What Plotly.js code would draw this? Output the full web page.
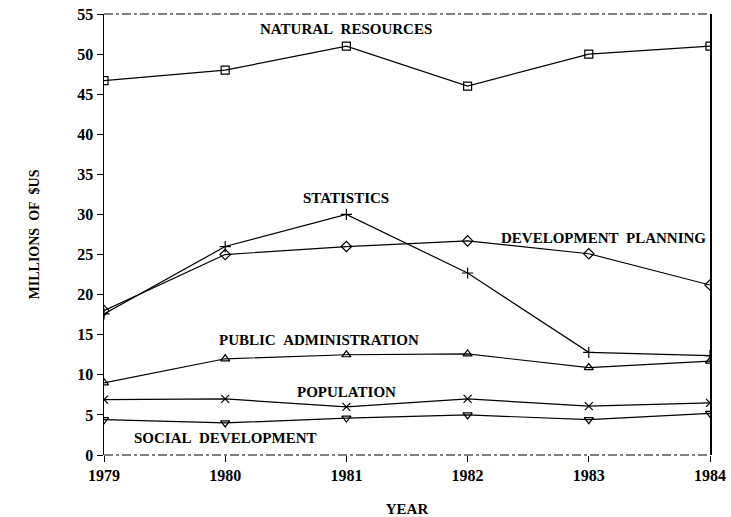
<!DOCTYPE html>
<html><head><meta charset="utf-8">
<script src="https://cdn.plot.ly/plotly-3.0.1.min.js"></script>
<style>body{margin:0;background:#fff}#chart{width:731px;height:517px}</style>
</head><body><div id="chart"></div>
<script>
const years = [1979, 1980, 1981, 1982, 1983, 1984];
const naturalResources = [46.7, 48.0, 51.0, 46.0, 50.0, 51.0];
const statistics = [17.6, 26.0, 30.0, 22.7, 12.8, 12.4];
const developmentPlanning = [18.0, 25.0, 26.0, 26.7, 25.1, 21.2];
const publicAdministration = [9.0, 12.0, 12.5, 12.6, 10.9, 11.7];
const population = [6.9, 7.0, 6.0, 7.0, 6.1, 6.5];
const socialDevelopment = [4.4, 4.0, 4.6, 5.0, 4.4, 5.2];
const yTicks = [0, 5, 10, 15, 20, 25, 30, 35, 40, 45, 50, 55];

const labels = [
  {text: "NATURAL&nbsp;&nbsp;RESOURCES", x: 1981.0, y: 53.1},
  {text: "STATISTICS", x: 1981.0, y: 32.0},
  {text: "DEVELOPMENT&nbsp;&nbsp;PLANNING", x: 1983.12, y: 27.1},
  {text: "PUBLIC&nbsp;&nbsp;ADMINISTRATION", x: 1980.77, y: 14.4},
  {text: "POPULATION", x: 1981.0, y: 7.9},
  {text: "SOCIAL&nbsp;&nbsp;DEVELOPMENT", x: 1980.0, y: 2.1}
];

const font = {family: "Liberation Serif, DejaVu Serif, serif", color: "#000"};
function tr(y, sym, dash) {
  return {x: years, y: y, type: "scatter", mode: "lines+markers",
    line: {color: "#000", width: 1.2, dash: dash || "solid"},
    marker: {symbol: sym, size: 8, color: "#000", line: {color: "#000", width: 1.2}},
    showlegend: false, hoverinfo: "skip"};
}
const data = [
  tr(naturalResources, "square-open"),
  tr(statistics, "cross-thin-open"),
  tr(developmentPlanning, "diamond-open"),
  tr(publicAdministration, "triangle-up-open"),
  tr(population, "x-thin-open"),
  tr(socialDevelopment, "triangle-down-open")
];

const layout = {
  width: 731, height: 517,
  margin: {l: 104, r: 21, t: 14, b: 62},
  paper_bgcolor: "#fff", plot_bgcolor: "#fff",
  font: font,
  xaxis: {range: [1979, 1984], tickvals: years, ticktext: years.map(v => "<b>" + v + "</b>"),
    showgrid: false, zeroline: false, showline: false,
    ticks: "outside", ticklen: 6, tickcolor: "#000",
    tickfont: {family: font.family, size: 16, color: "#000"},
    title: {text: "<b>YEAR</b>", font: {family: font.family, size: 15, color: "#000"}, standoff: 20}},
  yaxis: {range: [0, 55], tickvals: yTicks, ticktext: yTicks.map(v => "<b>" + v + "</b>"),
    showgrid: false, zeroline: false, showline: true, mirror: true, linecolor: "#000", linewidth: 1.5,
    ticks: "outside", ticklen: 6, tickcolor: "#000",
    tickfont: {family: font.family, size: 16, color: "#000"},
    title: {text: "<b>MILLIONS&nbsp;&nbsp;OF&nbsp;&nbsp;$US</b>", font: {family: font.family, size: 14, color: "#000"}, standoff: 34}},
  shapes: [
    {type: "line", xref: "paper", yref: "paper", x0: 0, x1: 1, y0: 1, y1: 1, line: {color: "#000", width: 1, dash: "dashdot"}},
    {type: "line", xref: "paper", yref: "paper", x0: 0, x1: 1, y0: 0, y1: 0, line: {color: "#000", width: 1, dash: "dashdot"}}
  ],
  annotations: labels.map(l => ({x: l.x, y: l.y, xref: "x", yref: "y", text: "<b>" + l.text + "</b>",
    showarrow: false, font: {family: font.family, size: 15, color: "#000"}}))
};
Plotly.newPlot("chart", data, layout, {displayModeBar: false, staticPlot: true});
</script></body></html>
